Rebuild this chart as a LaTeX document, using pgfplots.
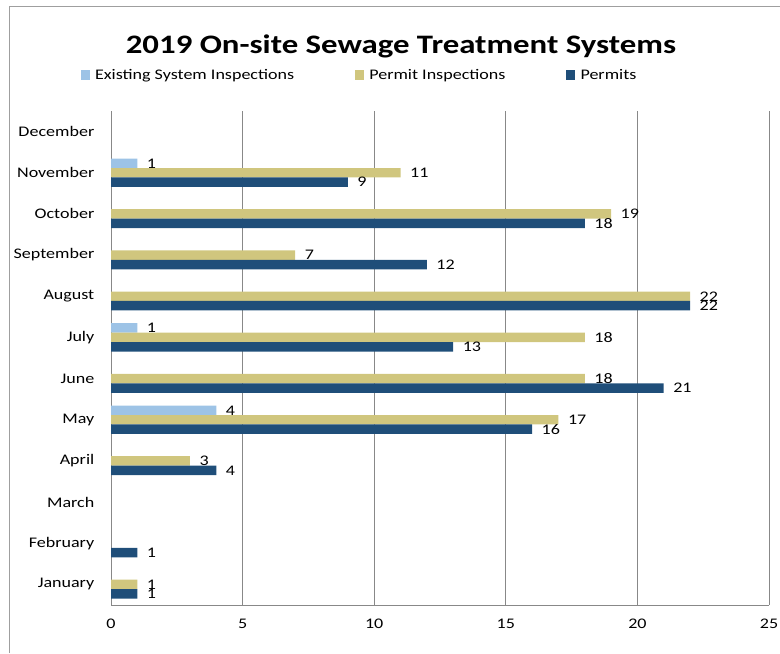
\documentclass[border=0pt]{standalone}
\usepackage{fontspec}
\setmainfont{Carlito}[FakeStretch=1.23]
\usepackage{pgfplots}
\pgfplotsset{compat=1.18}
\definecolor{exist}{HTML}{9DC3E6}
\definecolor{pinsp}{HTML}{D0C67E}
\definecolor{perm}{HTML}{1F4E79}
\definecolor{gridc}{HTML}{888888}
\begin{document}
\begin{tikzpicture}
\useasboundingbox (0pt,0pt) rectangle (585pt,-489.75pt);
\draw[color=gray!75, line width=0.75pt] (6.75pt,-489.75pt) -- (6.75pt,-4.5pt) -- (585pt,-4.5pt);
\node[font=\bfseries\fontsize{20}{24}\selectfont] at (300.75pt,-34.5pt) {2019 On-site Sewage Treatment Systems};
\begin{axis}[
  at={(83.25pt,-453.75pt)}, anchor=south west,
  scale only axis, width=493.5pt, height=370.5pt,
  xbar, bar width=7.1pt,
  xmin=0, xmax=25, ymin=-0.5, ymax=11.5,
  xtick={0,5,10,15,20,25},
  ytick={0,1,2,3,4,5,6,7,8,9,10,11},
  yticklabels={January,February,March,April,May,June,July,August,September,October,November,December},
  xmajorgrids, grid style={gridc, line width=0.75pt},
  axis x line*=bottom, axis y line*=left,
  axis line style={gridc, line width=0.75pt, -},
  major tick length=0pt,
  tick label style={font=\fontsize{11}{13}\selectfont},
  /pgf/number format/assume math mode=true,
  xticklabel style={yshift=-7pt},
  yticklabel style={xshift=-9pt},
  nodes near coords,
  nodes near coords style={font=\fontsize{11}{13}\selectfont, anchor=west, inner sep=0pt, xshift=7pt, /pgf/number format/assume math mode=true},
  legend columns=3,
  legend style={at={(0.3777,1.0729)}, anchor=center, draw=none, fill=none,
    font=\fontsize{11}{13}\selectfont,
    nodes={inner sep=1.5pt},
    /tikz/every odd column/.append style={column sep=2.5pt},
    /tikz/every even column/.append style={column sep=44pt}},
  legend image code/.code={\fill[#1] (0pt,-3.4pt) rectangle (6.8pt,3.4pt);},
]
\addplot[fill=exist, draw=none, bar shift=7.1pt] coordinates {(4,4) (1,6) (1,10)};
\addplot[fill=pinsp, draw=none, bar shift=0pt] coordinates {(1,0) (3,3) (17,4) (18,5) (18,6) (22,7) (7,8) (19,9) (11,10)};
\addplot[fill=perm, draw=none, bar shift=-7.1pt] coordinates {(1,0) (1,1) (4,3) (16,4) (21,5) (13,6) (22,7) (12,8) (18,9) (9,10)};
\legend{Existing System Inspections, Permit Inspections, Permits}
\end{axis}
\end{tikzpicture}
\end{document}
